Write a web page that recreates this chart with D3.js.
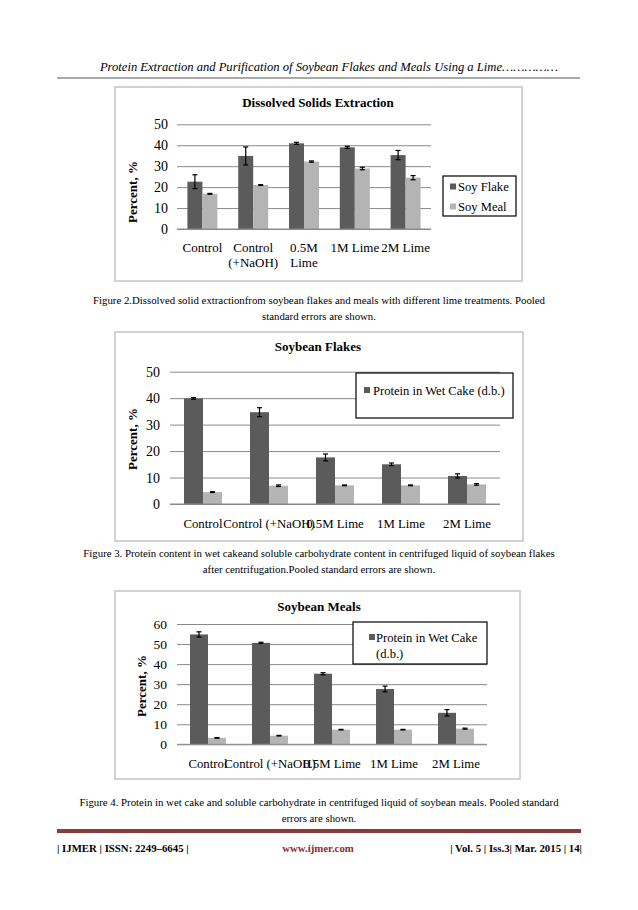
<!DOCTYPE html>
<html>
<head>
<meta charset="utf-8">
<script src="https://cdn.jsdelivr.net/npm/d3@7"></script>
<style>
  html, body { margin: 0; padding: 0; background: #fff; }
  svg { display: block; font-family: "Liberation Serif", "Times New Roman", serif; }
  svg text { font-family: "Liberation Serif", "Times New Roman", serif; fill: #000; }
</style>
</head>
<body>
<svg id="page" width="638" height="910"></svg>
<script>
// ---------------- DATA ----------------
const categories = ["Control", "Control (+NaOH)", "0.5M Lime", "1M Lime", "2M Lime"];
const catLines1 = [["Control"], ["Control", "(+NaOH)"], ["0.5M", "Lime"], ["1M Lime"], ["2M Lime"]];

// Figure 2: Dissolved Solids Extraction
const fig2Flake = [22.6, 34.9, 40.9, 39.0, 35.3];
const fig2FlakeErr = [3.3, 4.3, 0.5, 0.5, 2.2];
const fig2Meal = [16.8, 21.0, 32.2, 28.9, 24.5];
const fig2MealErr = [0.2, 0.2, 0.3, 0.6, 1.0];
const fig2Ticks = [0, 10, 20, 30, 40, 50];
const fig2Legend = ["Soy Flake", "Soy Meal"];

// Figure 3: Soybean Flakes
const fig3Protein = [39.9, 34.7, 17.6, 15.0, 10.6];
const fig3ProteinErr = [0.3, 1.7, 1.3, 0.5, 0.8];
const fig3Carb = [4.5, 6.9, 7.05, 7.05, 7.4];
const fig3CarbErr = [0.15, 0.3, 0.15, 0.15, 0.3];
const fig3Ticks = [0, 10, 20, 30, 40, 50];
const fig3Legend = ["Protein in Wet Cake (d.b.)"];

// Figure 4: Soybean Meals
const fig4Protein = [54.8, 50.6, 35.2, 27.6, 15.7];
const fig4ProteinErr = [1.3, 0.3, 0.5, 1.4, 1.6];
const fig4Carb = [3.2, 4.3, 7.3, 7.3, 7.8];
const fig4CarbErr = [0.15, 0.15, 0.15, 0.15, 0.25];
const fig4Ticks = [0, 10, 20, 30, 40, 50, 60];
const fig4Legend = [["Protein in Wet Cake", "(d.b.)"]];

// ---------------- STYLE ----------------
const SERIF = '"Liberation Serif", "Times New Roman", serif';
const DARK = "#5b5b5b";
const LIGHT = "#b4b4b4";
const GRID = "#8a8a8a";
const FRAME = "#c4c4c4";

const svg = d3.select("#page");

// Header
svg.append("text").attr("x", 558).attr("y", 71).attr("text-anchor", "end")
  .style("font-style", "italic").style("font-size", "12.6px")
  .text("Protein Extraction and Purification of Soybean Flakes and Meals Using a Lime\u2026\u2026\u2026\u2026\u2026");
svg.append("line").attr("x1", 57).attr("x2", 580).attr("y1", 78).attr("y2", 78)
  .attr("stroke", "#555").attr("stroke-width", 1);

function drawChart(cfg) {
  const g = svg.append("g");
  g.append("rect").attr("x", cfg.box[0]).attr("y", cfg.box[1])
    .attr("width", cfg.box[2] - cfg.box[0]).attr("height", cfg.box[3] - cfg.box[1])
    .attr("fill", "#fff").attr("stroke", FRAME).attr("stroke-width", 1.5);

  const y = d3.scaleLinear().domain([0, d3.max(cfg.ticks)]).range([cfg.plot[3], cfg.plot[1]]);
  const x = d3.scaleBand().domain(categories).range([cfg.plot[0], cfg.plot[2]]);
  const bw = x.bandwidth() * cfg.barFrac;

  // grid + y axis
  const ax = g.append("g").attr("transform", `translate(${cfg.plot[0]},0)`)
    .call(d3.axisLeft(y).tickValues(cfg.ticks).tickSize(-(cfg.plot[2] - cfg.plot[0]))
      .tickPadding(cfg.tickPad).tickFormat(d3.format("d")));
  ax.attr("font-family", SERIF);
  ax.select(".domain").remove();
  ax.selectAll(".tick line").attr("stroke", GRID).attr("stroke-width", 1);
  ax.selectAll(".tick text").style("font-family", SERIF)
    .style("font-size", cfg.tickFont + "px").attr("fill", "#000");

  // bars
  const series = [
    { vals: cfg.s1, err: cfg.e1, color: DARK, off: -bw },
    { vals: cfg.s2, err: cfg.e2, color: LIGHT, off: 0 }
  ];
  series.forEach(s => {
    g.append("g").selectAll("rect").data(categories).join("rect")
      .attr("x", (c) => x(c) + x.bandwidth() / 2 + s.off)
      .attr("y", (c, i) => y(s.vals[i]))
      .attr("width", bw)
      .attr("height", (c, i) => y(0) - y(s.vals[i]))
      .attr("fill", s.color);
  });
  // baseline
  g.append("line").attr("x1", cfg.plot[0]).attr("x2", cfg.plot[2])
    .attr("y1", y(0)).attr("y2", y(0)).attr("stroke", GRID).attr("stroke-width", 1);
  // error bars
  series.forEach(s => {
    const eg = g.append("g").attr("stroke", "#000").attr("stroke-width", 1.2);
    categories.forEach((c, i) => {
      const cx = x(c) + x.bandwidth() / 2 + s.off + bw / 2;
      const top = y(s.vals[i] + s.err[i]), bot = y(s.vals[i] - s.err[i]);
      eg.append("line").attr("x1", cx).attr("x2", cx).attr("y1", top).attr("y2", bot);
      eg.append("line").attr("x1", cx - 2.5).attr("x2", cx + 2.5).attr("y1", top).attr("y2", top);
      eg.append("line").attr("x1", cx - 2.5).attr("x2", cx + 2.5).attr("y1", bot).attr("y2", bot);
    });
  });

  // category labels
  categories.forEach((c, i) => {
    const lines = cfg.catLines ? cfg.catLines[i] : [c];
    const t = g.append("text").attr("text-anchor", "middle")
      .attr("x", x(c) + x.bandwidth() / 2).attr("y", cfg.catY)
      .style("font-size", cfg.catFont + "px");
    lines.forEach((ln, k) => t.append("tspan").attr("x", x(c) + x.bandwidth() / 2)
      .attr("dy", k === 0 ? 0 : 15).text(ln));
  });

  // title
  g.append("text").attr("x", cfg.titleX).attr("y", cfg.titleY).attr("text-anchor", "middle")
    .style("font-weight", "bold").style("font-size", "13px").text(cfg.title);

  // y-axis title
  g.append("text").attr("transform", `translate(${cfg.yLabX},${cfg.yLabY}) rotate(-90)`)
    .attr("text-anchor", "middle").style("font-weight", "bold").style("font-size", "13px")
    .text("Percent, %");

  // legend
  const L = cfg.legend;
  g.append("rect").attr("x", L.box[0]).attr("y", L.box[1])
    .attr("width", L.box[2] - L.box[0]).attr("height", L.box[3] - L.box[1])
    .attr("fill", "#fff").attr("stroke", "#000").attr("stroke-width", 1.2);
  L.items.forEach((it, k) => {
    const iy = L.firstY + k * L.step;
    g.append("rect").attr("x", L.markX).attr("y", iy - 3).attr("width", 6).attr("height", 6)
      .attr("fill", k === 0 ? DARK : LIGHT);
    const lines = Array.isArray(it) ? it : [it];
    const t = g.append("text").attr("x", L.textX).attr("y", iy + 4.5).style("font-size", "12.6px");
    lines.forEach((ln, j) => t.append("tspan").attr("x", L.textX).attr("dy", j === 0 ? 0 : 16).text(ln));
  });
}

// Figure 2
drawChart({
  box: [115, 87, 522, 281], plot: [177, 124.3, 431, 229], barFrac: 0.295,
  ticks: fig2Ticks, tickPad: 9, tickFont: 14,
  s1: fig2Flake, e1: fig2FlakeErr, s2: fig2Meal, e2: fig2MealErr,
  catLines: catLines1, catY: 252, catFont: 13,
  title: "Dissolved Solids Extraction", titleX: 318, titleY: 107,
  yLabX: 137, yLabY: 192,
  legend: { box: [443, 176, 516, 216], items: fig2Legend, firstY: 186.5, step: 20, markX: 450, textX: 458 }
});

// Figure 3
drawChart({
  box: [115, 332, 523, 541], plot: [170, 371.7, 500, 504], barFrac: 0.288,
  ticks: fig3Ticks, tickPad: 10, tickFont: 14,
  s1: fig3Protein, e1: fig3ProteinErr, s2: fig3Carb, e2: fig3CarbErr,
  catY: 528, catFont: 12.8,
  title: "Soybean Flakes", titleX: 318, titleY: 351,
  yLabX: 137, yLabY: 439,
  legend: { box: [356, 373, 513, 418], items: fig3Legend, firstY: 390, step: 20, markX: 364, textX: 373 }
});

// Figure 4
drawChart({
  box: [115, 591, 520, 779], plot: [177, 624, 487, 744.3], barFrac: 0.29,
  ticks: fig4Ticks, tickPad: 10, tickFont: 13.5,
  s1: fig4Protein, e1: fig4ProteinErr, s2: fig4Carb, e2: fig4CarbErr,
  catY: 768, catFont: 12.8,
  title: "Soybean Meals", titleX: 319, titleY: 611,
  yLabX: 146, yLabY: 686,
  legend: { box: [353, 622, 487, 664], items: fig4Legend, firstY: 637, step: 20, markX: 369, textX: 376 }
});

// Captions
function caption(lines, y0) {
  lines.forEach((ln, i) => svg.append("text").attr("x", 319).attr("y", y0 + i * 15.5)
    .attr("text-anchor", "middle").style("font-size", "10.8px").style("font-family", SERIF).text(ln));
}
caption(["Figure 2.Dissolved solid extractionfrom soybean flakes and meals with different lime treatments. Pooled",
         "standard errors are shown."], 304);
caption(["Figure 3. Protein content in wet cakeand soluble carbohydrate content in centrifuged liquid of soybean flakes",
         "after centrifugation.Pooled standard errors are shown."], 557);
caption(["Figure 4. Protein in wet cake and soluble carbohydrate in centrifuged liquid of soybean meals. Pooled standard",
         "errors are shown."], 806);

// Footer
svg.append("rect").attr("x", 57).attr("y", 829).attr("width", 524).attr("height", 4).attr("fill", "#8b3a3a");
svg.append("text").attr("x", 57).attr("y", 852).style("font-weight", "bold").style("font-size", "10.8px")
  .text("| IJMER | ISSN: 2249\u20136645 |");
svg.append("text").attr("x", 318).attr("y", 852).attr("text-anchor", "middle").style("font-weight", "bold")
  .style("font-size", "10.8px").style("fill", "#8b2e2e").text("www.ijmer.com");
svg.append("text").attr("x", 582).attr("y", 852).attr("text-anchor", "end").style("font-weight", "bold")
  .style("font-size", "10.8px").text("| Vol. 5 | Iss.3| Mar. 2015 | 14|");
</script>
</body>
</html>
